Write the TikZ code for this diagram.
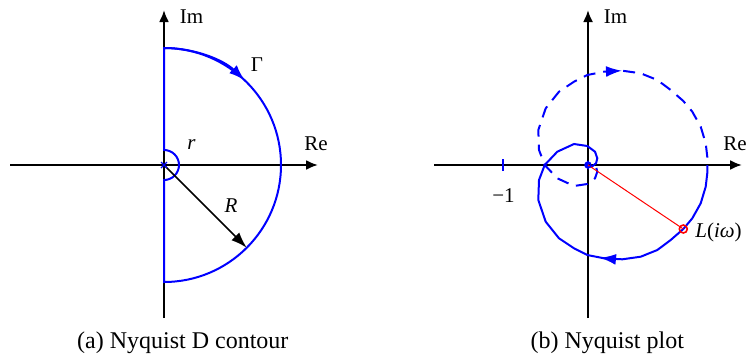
\documentclass[tikz,border=0pt]{standalone}
\usepackage{fontspec}
\setmainfont{Liberation Serif}
\usetikzlibrary{arrows.meta}

\tikzset{
  axis/.style={line width=1.1pt,-{Latex[length=6pt,width=5pt]}},
  contour/.style={blue,line width=1pt},
  nyqneg/.style={contour,dash pattern=on 6pt off 4pt},
  tip/.style={-{Latex[length=8pt,width=5.5pt]}},
  lbl/.style={inner sep=0pt,font=\fontsize{10.5}{12}\selectfont},
  capt/.style={inner sep=0pt,font=\fontsize{12}{14}\selectfont},
}

\begin{document}
\begin{tikzpicture}[x=0.5pt,y=0.5pt]
\useasboundingbox (0,0) rectangle (748,360);

% (a) Nyquist D contour
\begin{scope}[shift={(164,195)}]
\coordinate (O1) at (0,0);
\draw[axis] (-154,0) -- (154,0);
\draw[axis] (0,-153) -- (0,155);
\draw[contour] (0,117) arc[start angle=90,end angle=-90,radius=117]
  -- (0,-15) arc[start angle=-90,end angle=90,radius=15] -- cycle;
\draw[contour,tip] (0,117) arc[start angle=90,end angle=46.4,radius=117];
\coordinate (Rend) at (-45:117);
\draw[line width=0.8pt,-{Latex[length=8pt,width=5.5pt]}] (O1) -- (Rend);
\draw[blue,line width=0.6pt] (-3,-3) -- (3,3) (-3,3) -- (3,-3);
\node[lbl] (im1) at (27.5,148) {Im};
\node[lbl] (re1) at (152,21) {Re};
\node[lbl] (gam) at (93,100) {Γ};
\node[lbl] (rsmall) at (27.5,20) {\textit{r}};
\node[lbl] (rbig) at (67,-41) {\textit{R}};
\end{scope}

% (b) Nyquist plot
\begin{scope}[shift={(588,195)}]
\coordinate (O2) at (0,0);
\draw[axis] (-154,0) -- (154,0);
\draw[axis] (0,-153) -- (0,155);
\draw[blue,line width=1pt] (-85,-6) -- (-85,6);
\node[lbl] (m1) at (-84.5,-30.3) {−1};
% positive frequencies
\draw[contour] (119.3,0) -- (119.3,-8) -- (117.7,-21.7) -- (112.7,-38.3)
  -- (104.3,-53.3) -- (95.3,-64) -- (82.7,-75) -- (69.3,-85) -- (52.7,-91.7)
  -- (34.3,-94.3) -- (16,-93.3) -- (-0.7,-90) -- (-14,-83.3) -- (-29,-73.3)
  -- (-42.3,-56.7) -- (-49.7,-35) -- (-49,-15) -- (-43.3,0) -- (-30.7,13.3)
  -- (-14,21) -- (-0.7,19) -- (7,13.3) -- (9.3,6.7) -- (8,1.7) -- (3.7,-1.7)
  -- (-1.3,-1.7) -- (-2.3,1) -- (-0.3,2.7) -- (0,0);
% negative frequencies
\draw[nyqneg] (0,0) -- (-0.3,-2.7) -- (-2.3,-1) -- (-1.3,1.7) -- (3.7,1.7)
  -- (8,-1.7) -- (9.3,-6.7) -- (7,-13.3) -- (-0.7,-19) -- (-14,-21)
  -- (-30.7,-13.3) -- (-43.3,0) -- (-49,15) -- (-49.7,35) -- (-42.3,56.7)
  -- (-29,73.3) -- (-14,83.3) -- (-0.7,90) -- (16,93.3) -- (34.3,94.3)
  -- (52.7,91.7) -- (69.3,85) -- (82.7,75) -- (95.3,64) -- (104.3,53.3)
  -- (112.7,38.3) -- (117.7,21.7) -- (119.3,8) -- (119.3,0);
\draw[contour,tip] (22,-93.8) -- (12,-92.8);
\draw[contour,tip] (24,93.8) -- (34,94.3);
\coordinate (Liw) at (95.3,-64);
\draw[red,line width=0.5pt] (O2) -- (Liw);
\draw[red,line width=0.8pt] (Liw) circle[radius=4];
\draw[blue,line width=0.6pt] (O2) circle[radius=3];
\node[lbl,anchor=west] (lab) at (107,-67) {\textit{L}(\textit{iω})};
\node[lbl] (im2) at (27.5,148) {Im};
\node[lbl,anchor=east] (re2) at (159,21) {Re};
\end{scope}

\node[capt] (capa) at (182.8,17) {(a) Nyquist D contour};
\node[capt] (capb) at (607.3,17) {(b) Nyquist plot};
\end{tikzpicture}
\end{document}
